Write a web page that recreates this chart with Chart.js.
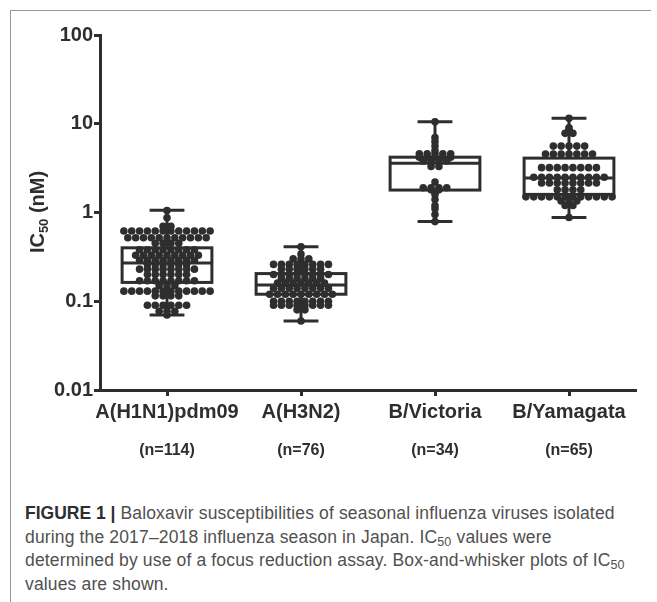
<!DOCTYPE html>
<html><head><meta charset="utf-8">
<script src="https://cdn.jsdelivr.net/npm/chart.js@4.4.1/dist/chart.umd.min.js"></script>
<style>
html,body{margin:0;padding:0;background:#fff;width:657px;height:602px;overflow:hidden;position:relative;}
#frame{position:absolute;left:10px;top:10px;width:640px;height:600px;border-left:1px solid #999;border-top:1px solid #999;}
#wrap{position:absolute;left:0;top:0;width:657px;height:500px;}
#cap{position:absolute;left:25px;top:502px;width:630px;font-family:"Liberation Sans",Arial,sans-serif;font-size:17.5px;letter-spacing:0.15px;line-height:23.5px;color:#505050;white-space:nowrap;}
#cap b{color:#2e2e2e;letter-spacing:0;}
#cap sub{font-size:12.5px;vertical-align:-3px;line-height:0;}
</style></head>
<body>
<div id="frame"></div>
<div id="wrap"><canvas id="c" width="657" height="500"></canvas></div>
<div id="cap"><b>FIGURE 1 |</b> Baloxavir susceptibilities of seasonal influenza viruses isolated<br>during the 2017–2018 influenza season in Japan. IC<sub>50</sub> values were<br>determined by use of a focus reduction assay. Box-and-whisker plots of IC<sub>50</sub><br>values are shown.</div>
<script>
const categories = ['A(H1N1)pdm09', 'A(H3N2)', 'B/Victoria', 'B/Yamagata'];
const sampleSizes = ['(n=114)', '(n=76)', '(n=34)', '(n=65)'];
const yTickValues = [0.01, 0.1, 1, 10, 100];
const yTickLabels = ['0.01', '0.1', '1', '10', '100'];

const whiskerMin = [0.07, 0.06, 0.79, 0.88];
const boxQ1 = [0.163, 0.12, 1.79, 1.6];
const boxMedian = [0.27, 0.152, 3.6, 2.45];
const boxQ3 = [0.40, 0.205, 4.2, 4.1];
const whiskerMax = [1.06, 0.41, 10.5, 11.5];

const h1n1Values = [
  1.05, 0.87, 0.70, 0.70, 0.66,
  0.62, 0.62, 0.62, 0.62, 0.62, 0.62, 0.62, 0.62, 0.62, 0.62, 0.62, 0.62,
  0.52, 0.52, 0.52, 0.52, 0.52, 0.52, 0.52, 0.52, 0.52, 0.52, 0.52,
  0.45, 0.45, 0.45, 0.45,
  0.38, 0.38, 0.38, 0.38, 0.38, 0.38, 0.38, 0.38,
  0.33, 0.33, 0.33, 0.33, 0.33, 0.33, 0.33, 0.33, 0.33,
  0.29, 0.29, 0.29, 0.29, 0.29, 0.29, 0.29, 0.29,
  0.26, 0.26, 0.26, 0.26, 0.26, 0.26,
  0.23, 0.23, 0.23, 0.23, 0.23, 0.23, 0.23, 0.23,
  0.20, 0.20, 0.20, 0.20, 0.20, 0.20,
  0.17, 0.17, 0.17, 0.17, 0.17, 0.17, 0.17, 0.17,
  0.15, 0.15, 0.15,
  0.13, 0.13, 0.13, 0.13, 0.13, 0.13, 0.13, 0.13, 0.13, 0.13, 0.13, 0.13,
  0.115, 0.115, 0.115, 0.115,
  0.09, 0.09, 0.09, 0.09, 0.09, 0.09,
  0.077, 0.077, 0.077,
  0.07
];
const h3n2Values = [
  0.41, 0.34, 0.30, 0.30, 0.30,
  0.26, 0.26, 0.26, 0.26, 0.26, 0.26, 0.26, 0.26,
  0.23, 0.23, 0.23, 0.23, 0.23, 0.23,
  0.20, 0.20, 0.20, 0.20, 0.20, 0.20, 0.20, 0.20,
  0.18, 0.18, 0.18, 0.18, 0.18, 0.18,
  0.16, 0.16, 0.16, 0.16, 0.16, 0.16, 0.16,
  0.14, 0.14, 0.14, 0.14, 0.14, 0.14, 0.14, 0.14,
  0.12, 0.12, 0.12, 0.12, 0.12, 0.12, 0.12, 0.12, 0.12,
  0.10, 0.10, 0.10, 0.10, 0.10, 0.10, 0.10, 0.10,
  0.09, 0.09, 0.09, 0.09, 0.09, 0.09, 0.09, 0.09,
  0.08, 0.08,
  0.06
];
const victoriaValues = [
  10.5, 7.0, 6.3, 5.6, 5.0,
  4.6, 4.6, 4.6, 4.6, 4.6,
  4.2, 4.2, 4.2, 4.2, 4.2,
  3.8, 3.8, 3.8, 3.8,
  3.3, 3.3,
  2.2,
  1.9, 1.9, 1.9, 1.9,
  1.8, 1.8,
  1.6, 1.4, 1.2, 1.1, 0.95, 0.79
];
const yamagataValues = [
  11.5, 9.0, 8.6, 7.8, 7.8,
  5.6, 5.6, 5.6, 5.6, 5.6,
  4.55, 4.55, 4.55, 4.55, 4.55, 4.55, 4.55,
  3.2, 3.2, 3.2, 3.2, 3.2, 3.2, 3.2, 3.2,
  2.5, 2.5, 2.5, 2.5, 2.5, 2.5, 2.5, 2.5, 2.5, 2.5,
  2.15, 2.15, 2.15, 2.15, 2.15, 2.15, 2.15, 2.15,
  1.8, 1.8, 1.8, 1.8,
  1.5, 1.5, 1.5, 1.5, 1.5, 1.5, 1.5, 1.5, 1.5, 1.5, 1.5, 1.5,
  1.35, 1.35, 1.35,
  1.2, 1.2,
  0.88
];
const groupValues = [h1n1Values, h3n2Values, victoriaValues, yamagataValues];

const INK = '#2e2e2e';
const DOT_STEP = 0.0585;   // horizontal spacing of dots in a row (category units)
const BOX_HALF = 0.335;    // half width of box (category units)
const CAP_HALF = 0.13;     // half width of whisker caps

function swarm(values, gi) {
  const counts = {};
  values.forEach(v => counts[v] = (counts[v] || 0) + 1);
  const seen = {};
  return values.map(v => {
    const k = counts[v];
    const i = (seen[v] = (seen[v] || 0) + 1) - 1;
    return { x: gi + (i - (k - 1) / 2) * DOT_STEP, y: v };
  });
}

const boxPlugin = {
  id: 'boxes',
  beforeDatasetsDraw(chart) {
    const { ctx, scales: { x, y } } = chart;
    ctx.save();
    ctx.strokeStyle = INK;
    ctx.lineWidth = 3;
    ctx.lineCap = 'butt';
    categories.forEach((c, i) => {
      const xl = x.getPixelForValue(i - BOX_HALF), xr = x.getPixelForValue(i + BOX_HALF);
      const xc = x.getPixelForValue(i);
      const cl = x.getPixelForValue(i - CAP_HALF), cr = x.getPixelForValue(i + CAP_HALF);
      const yq1 = y.getPixelForValue(boxQ1[i]), yq3 = y.getPixelForValue(boxQ3[i]);
      const ym = y.getPixelForValue(boxMedian[i]);
      const ymin = y.getPixelForValue(whiskerMin[i]), ymax = y.getPixelForValue(whiskerMax[i]);
      ctx.beginPath();
      ctx.moveTo(xc, yq3); ctx.lineTo(xc, ymax);
      ctx.moveTo(cl, ymax); ctx.lineTo(cr, ymax);
      ctx.moveTo(xc, yq1); ctx.lineTo(xc, ymin);
      ctx.moveTo(cl, ymin); ctx.lineTo(cr, ymin);
      ctx.stroke();
      ctx.strokeRect(xl, yq3, xr - xl, yq1 - yq3);
      ctx.beginPath();
      ctx.moveTo(xl, ym); ctx.lineTo(xr, ym);
      ctx.stroke();
    });
    ctx.restore();
  },
  afterDraw(chart) {
    const { ctx, scales: { x } } = chart;
    ctx.save();
    ctx.fillStyle = INK;
    ctx.textAlign = 'center';
    ctx.textBaseline = 'middle';
    ctx.font = 'bold 16px "Liberation Sans", Arial, sans-serif';
    sampleSizes.forEach((s, i) => ctx.fillText(s, x.getPixelForValue(i), 451));
    // y axis title with subscript
    ctx.translate(37, 212);
    ctx.rotate(-Math.PI / 2);
    const big = 'bold 20px "Liberation Sans", Arial, sans-serif';
    const small = 'bold 13px "Liberation Sans", Arial, sans-serif';
    ctx.font = big; const w1 = ctx.measureText('IC').width; const w3 = ctx.measureText(' (nM)').width;
    ctx.font = small; const w2 = ctx.measureText('50').width;
    let px = -(w1 + w2 + w3) / 2;
    ctx.textAlign = 'left';
    ctx.textBaseline = 'alphabetic';
    ctx.font = big; ctx.fillText('IC', px, 7); px += w1;
    ctx.font = small; ctx.fillText('50', px, 11); px += w2;
    ctx.font = big; ctx.fillText(' (nM)', px, 7);
    ctx.restore();
  }
};

new Chart(document.getElementById('c'), {
  type: 'scatter',
  data: {
    datasets: groupValues.map((vals, gi) => ({
      label: categories[gi],
      data: swarm(vals, gi),
      backgroundColor: INK,
      borderColor: INK,
      borderWidth: 0,
      pointRadius: 3.8,
      pointHoverRadius: 3.8
    }))
  },
  options: {
    responsive: false,
    animation: false,
    events: [],
    layout: { padding: { left: 0, top: 35, right: 21, bottom: 0 } },
    plugins: { legend: { display: false }, tooltip: { enabled: false } },
    scales: {
      x: {
        type: 'linear',
        min: -0.5,
        max: 3.5,
        afterBuildTicks(scale) { scale.ticks = categories.map((c, i) => ({ value: i })); },
        afterFit(scale) { scale.height = 110; },
        ticks: {
          callback: (v) => categories[v],
          font: { family: '"Liberation Sans", Arial, sans-serif', size: 20, weight: 'bold' },
          color: INK,
          padding: 4,
          maxRotation: 0,
          autoSkip: false
        },
        grid: { display: true, drawOnChartArea: false, drawTicks: true, tickLength: 6, tickWidth: 3, tickColor: INK },
        border: { display: true, width: 3, color: INK }
      },
      y: {
        type: 'logarithmic',
        min: 0.01,
        max: 100,
        afterBuildTicks(scale) { scale.ticks = yTickValues.map(v => ({ value: v })); },
        afterFit(scale) { scale.width = 100; },
        ticks: {
          callback: (v) => yTickLabels[yTickValues.indexOf(v)],
          font: { family: '"Liberation Sans", Arial, sans-serif', size: 20, weight: 'bold' },
          color: INK,
          padding: 1,
          autoSkip: false
        },
        grid: { display: true, drawOnChartArea: false, drawTicks: true, tickLength: 6, tickWidth: 3, tickColor: INK },
        border: { display: true, width: 3, color: INK }
      }
    }
  },
  plugins: [boxPlugin]
});
</script>
</body></html>
